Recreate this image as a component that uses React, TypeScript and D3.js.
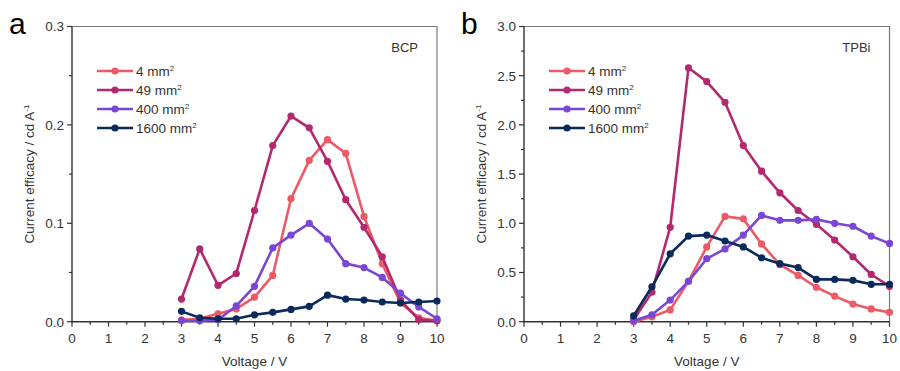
import { useEffect, useRef } from 'react';
import * as d3 from 'd3';

// ─── Data ───────────────────────────────────────────────────

const voltages = [3, 3.5, 4, 4.5, 5, 5.5, 6, 6.5, 7, 7.5, 8, 8.5, 9, 9.5, 10];

const seriesNames = ['4 mm', '49 mm', '400 mm', '1600 mm'];
const seriesColors = ['#ec5a66', '#b3286f', '#7a47d4', '#0a2a5c'];

// panel a — BCP
const bcp4 = [0.002, 0.003, 0.008, 0.013, 0.025, 0.047, 0.125, 0.164, 0.185, 0.171, 0.107, 0.059, 0.019, 0.004, 0.001];
const bcp49 = [0.023, 0.074, 0.037, 0.049, 0.113, 0.179, 0.209, 0.197, 0.163, 0.124, 0.096, 0.066, 0.022, 0.002, 0.001];
const bcp400 = [0.001, 0.001, 0.002, 0.016, 0.036, 0.075, 0.088, 0.1, 0.084, 0.059, 0.055, 0.045, 0.029, 0.015, 0.003];
const bcp1600 = [0.0105, 0.004, 0.003, 0.003, 0.007, 0.0095, 0.0125, 0.0156, 0.027, 0.023, 0.022, 0.02, 0.019, 0.02, 0.021];

// panel b — TPBi
const tpbi4 = [0.0, 0.05, 0.12, 0.41, 0.76, 1.07, 1.045, 0.79, 0.58, 0.47, 0.35, 0.26, 0.18, 0.13, 0.095];
const tpbi49 = [0.02, 0.3, 0.96, 2.58, 2.44, 2.23, 1.79, 1.53, 1.31, 1.13, 0.99, 0.83, 0.66, 0.48, 0.36];
const tpbi400 = [0.01, 0.07, 0.22, 0.41, 0.64, 0.74, 0.88, 1.08, 1.03, 1.03, 1.04, 1.0, 0.97, 0.87, 0.795];
const tpbi1600 = [0.06, 0.355, 0.69, 0.87, 0.88, 0.82, 0.76, 0.65, 0.59, 0.55, 0.43, 0.43, 0.42, 0.38, 0.38];

const xTicks = [0, 1, 2, 3, 4, 5, 6, 7, 8, 9, 10];
const bcpYTicks = [0, 0.1, 0.2, 0.3];
const tpbiYTicks = [0, 0.5, 1, 1.5, 2, 2.5, 3];

// ─── Constants ──────────────────────────────────────────────

const W = 900;
const H = 371;
const FONT = '"Liberation Sans", Arial, sans-serif';
const TEXT = '#333';

interface PanelSpec {
  letter: string;
  tag: string;
  left: number;
  right: number;
  yMax: number;
  yTicks: number[];
  yMinorStep: number;
  yFormat: (v: number) => string;
  series: number[][];
}

const panels: PanelSpec[] = [
  {
    letter: 'a', tag: 'BCP', left: 72, right: 437, yMax: 0.3,
    yTicks: bcpYTicks, yMinorStep: 0.05, yFormat: d3.format('.1f'),
    series: [bcp4, bcp49, bcp400, bcp1600],
  },
  {
    letter: 'b', tag: 'TPBi', left: 524, right: 889.5, yMax: 3,
    yTicks: tpbiYTicks, yMinorStep: 0.25, yFormat: d3.format('.1f'),
    series: [tpbi4, tpbi49, tpbi400, tpbi1600],
  },
];

const TOP = 26.5;
const BOTTOM = 321.7;

// ─── Component ──────────────────────────────────────────────

export default function App() {
  const svgRef = useRef<SVGSVGElement>(null);

  useEffect(() => {
    if (!svgRef.current) return;
    const svg = d3.select(svgRef.current);
    svg.selectAll('*').remove();

    panels.forEach((p) => {
      const x = d3.scaleLinear().domain([0, 10]).range([p.left, p.right]);
      const y = d3.scaleLinear().domain([0, p.yMax]).range([BOTTOM, TOP]);
      const g = svg.append('g').attr('font-family', FONT);

      // frame (top/right grey)
      g.append('path')
        .attr('d', `M${p.left},${TOP}H${p.right}V${BOTTOM}`)
        .attr('fill', 'none')
        .attr('stroke', '#7a7a7a')
        .attr('stroke-width', 1.2);

      // bottom axis
      const minorX = d3.range(0.5, 10, 1);
      g.append('g').selectAll('line').data(xTicks).join('line')
        .attr('x1', (d) => x(d)).attr('x2', (d) => x(d))
        .attr('y1', BOTTOM).attr('y2', BOTTOM + 5)
        .attr('stroke', TEXT).attr('stroke-width', 1.2);
      g.append('g').selectAll('line').data(minorX).join('line')
        .attr('x1', (d) => x(d)).attr('x2', (d) => x(d))
        .attr('y1', BOTTOM).attr('y2', BOTTOM + 3)
        .attr('stroke', TEXT).attr('stroke-width', 1.2);
      g.append('g').selectAll('text').data(xTicks).join('text')
        .attr('x', (d) => x(d)).attr('y', BOTTOM + 21)
        .attr('text-anchor', 'middle')
        .attr('font-size', 13.5)
        .attr('fill', TEXT)
        .text((d) => String(d));

      // left axis
      const minorY = d3.range(p.yMinorStep, p.yMax, p.yMinorStep * 2);
      g.append('g').selectAll('line').data(p.yTicks).join('line')
        .attr('x1', p.left - 5).attr('x2', p.left)
        .attr('y1', (d) => y(d)).attr('y2', (d) => y(d))
        .attr('stroke', TEXT).attr('stroke-width', 1.2);
      g.append('g').selectAll('line').data(minorY).join('line')
        .attr('x1', p.left - 3).attr('x2', p.left)
        .attr('y1', (d) => y(d)).attr('y2', (d) => y(d))
        .attr('stroke', TEXT).attr('stroke-width', 1.2);
      g.append('g').selectAll('text').data(p.yTicks).join('text')
        .attr('x', p.left - 8).attr('y', (d) => y(d))
        .attr('dy', '0.36em')
        .attr('text-anchor', 'end')
        .attr('font-size', 13.5)
        .attr('fill', TEXT)
        .text((d) => p.yFormat(d));

      g.append('line')
        .attr('x1', p.left).attr('x2', p.left)
        .attr('y1', TOP).attr('y2', BOTTOM + 0.6)
        .attr('stroke', TEXT).attr('stroke-width', 1.4);
      g.append('line')
        .attr('x1', p.left - 0.6).attr('x2', p.right)
        .attr('y1', BOTTOM).attr('y2', BOTTOM)
        .attr('stroke', TEXT).attr('stroke-width', 1.4);

      // axis titles
      g.append('text')
        .attr('x', (p.left + p.right) / 2).attr('y', 366)
        .attr('text-anchor', 'middle')
        .attr('font-size', 13.5)
        .attr('fill', TEXT)
        .text('Voltage / V');

      const yt = g.append('text')
        .attr('transform', `translate(${p.left - 38},${(TOP + BOTTOM) / 2}) rotate(-90)`)
        .attr('text-anchor', 'middle')
        .attr('font-size', 13.5)
        .attr('fill', TEXT);
      yt.append('tspan').text('Current efficacy / cd A');
      yt.append('tspan').attr('dy', -5).attr('font-size', 8).text('-1');

      // panel letter
      g.append('text')
        .attr('x', p.left - 63).attr('y', 34)
        .attr('font-size', 30)
        .attr('fill', '#000')
        .text(p.letter);

      // tag
      g.append('text')
        .attr('x', p.right - 19).attr('y', 52)
        .attr('text-anchor', 'end')
        .attr('font-size', 13)
        .attr('fill', TEXT)
        .text(p.tag);

      // series
      const line = d3.line<number>()
        .x((_, i) => x(voltages[i]))
        .y((d) => y(d));

      p.series.forEach((vals, si) => {
        const color = seriesColors[si];
        const sg = g.append('g');
        sg.append('path').datum(vals)
          .attr('fill', 'none')
          .attr('stroke', color)
          .attr('stroke-width', 2.6)
          .attr('stroke-linejoin', 'round')
          .attr('d', line);
        sg.selectAll('circle').data(vals).join('circle')
          .attr('cx', (_, i) => x(voltages[i]))
          .attr('cy', (d) => y(d))
          .attr('r', 3.6)
          .attr('fill', color);
      });

      // legend
      const lx = p.left + 25;
      seriesNames.forEach((name, si) => {
        const ly = 71 + si * 19;
        const color = seriesColors[si];
        g.append('line')
          .attr('x1', lx).attr('x2', lx + 36)
          .attr('y1', ly).attr('y2', ly)
          .attr('stroke', color).attr('stroke-width', 2.6);
        g.append('circle')
          .attr('cx', lx + 18).attr('cy', ly).attr('r', 3.6)
          .attr('fill', color);
        const t = g.append('text')
          .attr('x', lx + 39).attr('y', ly)
          .attr('dy', '0.36em')
          .attr('font-size', 13.5)
          .attr('fill', TEXT);
        t.append('tspan').text(name);
        t.append('tspan').attr('dy', -5).attr('font-size', 8).text('2');
      });
    });
  }, []);

  return (
    <svg ref={svgRef} width={W} height={H} style={{ position: 'absolute', left: 0, top: 0, background: '#fff' }} />
  );
}
